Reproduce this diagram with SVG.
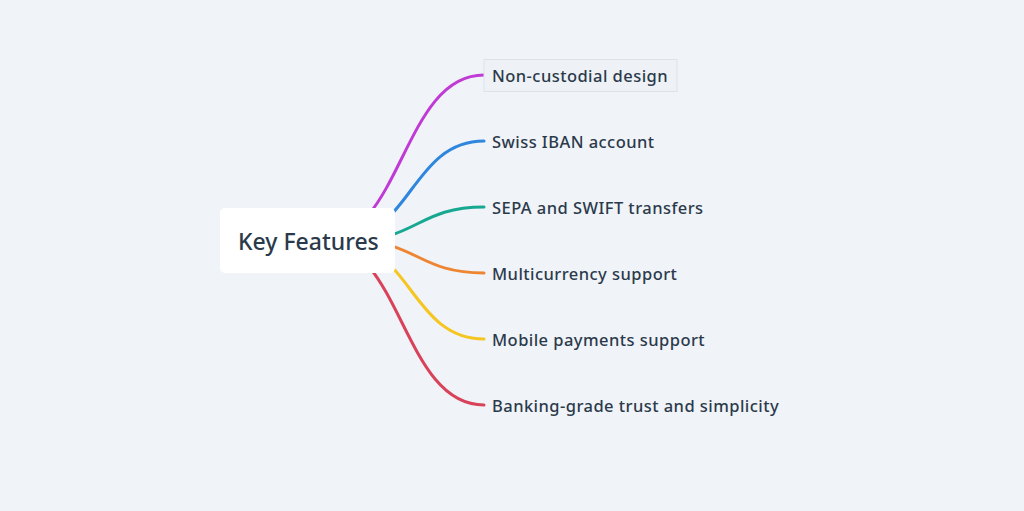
<svg xmlns="http://www.w3.org/2000/svg" width="1024" height="511" viewBox="0 0 1024 511">
<style>
.link{fill:none;stroke-width:3;stroke-linecap:round}
.lbl{font-family:"Noto Sans","DejaVu Sans",sans-serif;font-size:16.5px;font-weight:500;letter-spacing:0.45px;fill:#2b3a4b}
.root{font-family:"Noto Sans","DejaVu Sans",sans-serif;font-size:23px;font-weight:500;fill:#2b3a4b}
</style>
<rect width="1024" height="511" fill="#f0f3f8"/>
<g id="connectors">
<path class="link" stroke="#c03bd5" d="M320,240.5 C402,240.5 402,75 484,75"/>
<path class="link" stroke="#2e86de" d="M337,240.5 C410.5,240.5 410.5,141 484,141"/>
<path class="link" stroke="#17a892" d="M351,240.5 C417.5,240.5 417.5,207 484,207"/>
<path class="link" stroke="#ee8533" d="M351,240.5 C417.5,240.5 417.5,273 484,273"/>
<path class="link" stroke="#f5c520" d="M337,240.5 C410.5,240.5 410.5,339 484,339"/>
<path class="link" stroke="#d8435a" d="M320,240.5 C402,240.5 402,405 484,405"/>
</g>
<g id="root">
<rect x="220" y="208" width="175" height="65" rx="5" fill="#ffffff"/>
<text class="root" x="238" y="249.5">Key Features</text>
</g>
<g id="n1">
<rect x="484" y="59.5" width="193" height="32" fill="#eef2f6" stroke="#dce3e8" stroke-width="1"/>
<text class="lbl" x="492" y="82">Non-custodial design</text>
</g>
<g id="n2"><text class="lbl" x="492" y="148">Swiss IBAN account</text></g>
<g id="n3"><text class="lbl" x="492" y="214">SEPA and SWIFT transfers</text></g>
<g id="n4"><text class="lbl" x="492" y="280">Multicurrency support</text></g>
<g id="n5"><text class="lbl" x="492" y="346">Mobile payments support</text></g>
<g id="n6"><text class="lbl" x="492" y="412">Banking-grade trust and simplicity</text></g>
</svg>
